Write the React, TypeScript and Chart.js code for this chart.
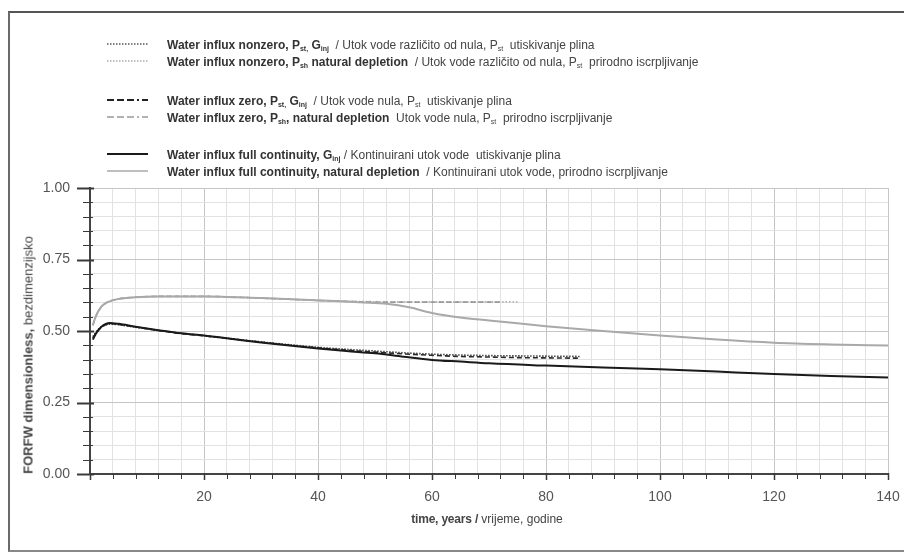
import React, { useEffect, useRef } from "react";
import { Chart, registerables } from "chart.js";

Chart.register(...registerables);

// ---- data (years, FORFW dimensionless) ----
const tFullGinj = [0.5, 1, 2, 3.5, 5, 8, 12, 16, 20, 25, 30, 35, 40, 45, 50, 55, 60, 65, 70, 80, 90, 100, 110, 120, 130, 140];
const fullGinj = [0.47, 0.49, 0.515, 0.528, 0.525, 0.515, 0.503, 0.492, 0.484, 0.472, 0.46, 0.449, 0.439, 0.43, 0.422, 0.41, 0.399, 0.393, 0.387, 0.379, 0.372, 0.366, 0.358, 0.35, 0.343, 0.337];

const tFullDep = [0.5, 1, 2, 3, 5, 8, 12, 20, 30, 40, 48, 52, 56, 60, 65, 70, 75, 80, 90, 100, 110, 120, 130, 140];
const fullDep = [0.52, 0.55, 0.585, 0.6, 0.612, 0.618, 0.621, 0.621, 0.615, 0.607, 0.6, 0.595, 0.583, 0.563, 0.547, 0.537, 0.527, 0.517, 0.5, 0.484, 0.47, 0.459, 0.453, 0.449];

const tGinj = [0.5, 1, 2, 3.5, 5, 8, 12, 16, 20, 25, 30, 35, 40, 45, 50, 55, 60, 65, 70, 75, 80, 86];
const zeroGinj = [0.475, 0.49, 0.513, 0.526, 0.523, 0.514, 0.502, 0.491, 0.483, 0.472, 0.461, 0.45, 0.441, 0.433, 0.426, 0.42, 0.415, 0.411, 0.409, 0.407, 0.406, 0.405];
const nonzeroGinj = [0.48, 0.495, 0.515, 0.524, 0.522, 0.513, 0.502, 0.492, 0.484, 0.473, 0.462, 0.452, 0.443, 0.436, 0.43, 0.424, 0.419, 0.416, 0.414, 0.413, 0.412, 0.411];

const tZeroDep = [0.5, 1, 2, 3, 5, 8, 12, 20, 30, 40, 48, 52, 56, 60, 66, 72];
const zeroDep = [0.52, 0.55, 0.585, 0.6, 0.612, 0.618, 0.621, 0.621, 0.615, 0.607, 0.602, 0.601, 0.601, 0.601, 0.601, 0.601];

const tNonzeroDep = [0.5, 1, 2, 3, 5, 8, 12, 20, 30, 40, 48, 52, 56, 60, 66, 75];
const nonzeroDep = [0.52, 0.55, 0.585, 0.6, 0.612, 0.618, 0.621, 0.621, 0.615, 0.607, 0.603, 0.602, 0.602, 0.602, 0.602, 0.602];

const xMajorTicks = [20, 40, 60, 80, 100, 120, 140];
const yMajorTicks = [0, 0.25, 0.5, 0.75, 1];

const pts = (xs: number[], ys: number[]) => xs.map((x, i) => ({ x, y: ys[i] }));

const isMajorY = (v: number) => Math.abs(v * 4 - Math.round(v * 4)) < 1e-6;
const isMajorX = (v: number) => Math.abs(v % 20) < 1e-6;

const tickMarks = {
  id: "tickMarks",
  afterDraw(chart: any) {
    const { ctx, chartArea } = chart;
    const xs = chart.scales.x;
    const ys = chart.scales.y;
    ctx.save();
    ctx.strokeStyle = "#3a3a3a";
    for (let i = 0; i <= 20; i++) {
      const v = i * 0.05;
      const y = Math.round(ys.getPixelForValue(v)) + 0.5;
      const major = isMajorY(v);
      ctx.lineWidth = major ? 2 : 1;
      ctx.beginPath();
      ctx.moveTo(chartArea.left - (major ? 13 : 7), y);
      ctx.lineTo(chartArea.left + (major ? 4 : 3), y);
      ctx.stroke();
    }
    for (let i = 0; i <= 35; i++) {
      const v = i * 4;
      const x = Math.round(xs.getPixelForValue(v)) + 0.5;
      const major = isMajorX(v);
      ctx.lineWidth = major ? 1.5 : 1;
      ctx.beginPath();
      ctx.moveTo(x, chartArea.bottom - 1);
      ctx.lineTo(x, chartArea.bottom + (major ? 6 : 5));
      ctx.stroke();
    }
    ctx.restore();
  },
};

const Sub = ({ children }: { children: any }) => (
  <sub style={{ fontSize: 7, verticalAlign: "-2px" }}>{children}</sub>
);

const legendRows = [
  {
    y: 44,
    dash: "1.5,1.5",
    color: "#555",
    width: 1.6,
    bold: (
      <>
        Water influx nonzero, P<Sub>st,</Sub> G<Sub>inj</Sub>
      </>
    ),
    reg: (
      <>
        {"  / Utok vode različito od nula, P"}
        <Sub>st</Sub>
        {"  utiskivanje plina"}
      </>
    ),
  },
  {
    y: 61,
    dash: "1.5,1.5",
    color: "#aaa",
    width: 1.6,
    bold: (
      <>
        Water influx nonzero, P<Sub>sh</Sub> natural depletion
      </>
    ),
    reg: (
      <>
        {"  / Utok vode različito od nula, P"}
        <Sub>st</Sub>
        {"  prirodno iscrpljivanje"}
      </>
    ),
  },
  {
    y: 100,
    dash: "7,3,7,3,7,3,2,3",
    color: "#222",
    width: 2,
    bold: (
      <>
        Water influx zero, P<Sub>st,</Sub> G<Sub>inj</Sub>
      </>
    ),
    reg: (
      <>
        {"  / Utok vode nula, P"}
        <Sub>st</Sub>
        {"  utiskivanje plina"}
      </>
    ),
  },
  {
    y: 117,
    dash: "7,3,7,3,7,3,2,3",
    color: "#999",
    width: 1.6,
    bold: (
      <>
        Water influx zero, P<Sub>sh</Sub>, natural depletion
      </>
    ),
    reg: (
      <>
        {"  Utok vode nula, P"}
        <Sub>st</Sub>
        {"  prirodno iscrpljivanje"}
      </>
    ),
  },
  {
    y: 154,
    dash: "",
    color: "#1a1a1a",
    width: 2,
    bold: (
      <>
        Water influx full continuity, G<Sub>inj</Sub>
      </>
    ),
    reg: <>{" / Kontinuirani utok vode  utiskivanje plina"}</>,
  },
  {
    y: 171,
    dash: "",
    color: "#a8a8a8",
    width: 1.6,
    bold: <>Water influx full continuity, natural depletion</>,
    reg: <>{"  / Kontinuirani utok vode, prirodno iscrpljivanje"}</>,
  },
];

export default function App() {
  const canvasRef = useRef<HTMLCanvasElement | null>(null);

  useEffect(() => {
    if (!canvasRef.current) return;
    const chart = new Chart(canvasRef.current, {
      type: "line",
      data: {
        datasets: [
          {
            label: "Water influx full continuity, natural depletion",
            data: pts(tFullDep, fullDep),
            borderColor: "#a9a9a9",
            borderWidth: 2,
          },
          {
            label: "Water influx zero, Psh, natural depletion",
            data: pts(tZeroDep, zeroDep),
            borderColor: "#9a9a9a",
            borderWidth: 1.6,
            borderDash: [5, 3],
          },
          {
            label: "Water influx nonzero, Psh natural depletion",
            data: pts(tNonzeroDep, nonzeroDep),
            borderColor: "#b0b0b0",
            borderWidth: 1.6,
            borderDash: [1.5, 2],
          },
          {
            label: "Water influx full continuity, Ginj",
            data: pts(tFullGinj, fullGinj),
            borderColor: "#1a1a1a",
            borderWidth: 2,
          },
          {
            label: "Water influx zero, Pst, Ginj",
            data: pts(tGinj, zeroGinj),
            borderColor: "#2a2a2a",
            borderWidth: 1.6,
            borderDash: [5, 3],
          },
          {
            label: "Water influx nonzero, Pst, Ginj",
            data: pts(tGinj, nonzeroGinj),
            borderColor: "#444",
            borderWidth: 1.6,
            borderDash: [1.5, 1.5],
          },
        ],
      },
      options: {
        animation: false,
        responsive: false,
        maintainAspectRatio: false,
        events: [],
        elements: {
          point: { radius: 0 },
          line: { cubicInterpolationMode: "monotone", fill: false },
        },
        layout: { padding: { top: 188, right: 16, left: 0, bottom: 0 } },
        plugins: { legend: { display: false }, tooltip: { enabled: false } },
        scales: {
          x: {
            type: "linear",
            min: 0,
            max: 140,
            afterFit: (s: any) => {
              s.height = 78;
              s.paddingRight = 0;
              s.paddingLeft = 0;
            },
            afterBuildTicks: (s: any) => {
              const t = [];
              for (let i = 0; i <= 35; i++) t.push({ value: i * 4 });
              s.ticks = t;
            },
            ticks: {
              autoSkip: false,
              maxRotation: 0,
              padding: 15,
              color: "#555",
              font: { family: "'Liberation Sans', Arial, sans-serif", size: 14 },
              callback: (v: any) => (xMajorTicks.includes(Number(v)) ? String(v) : ""),
            },
            grid: {
              drawTicks: false,
              color: (c: any) => (c.tick && isMajorX(c.tick.value) ? "#c6c6c6" : "#e2e2e2"),
              lineWidth: 1,
            },
            border: { display: true, color: "#444", width: 2 },
          },
          y: {
            type: "linear",
            min: 0,
            max: 1,
            afterFit: (s: any) => {
              s.width = 90;
              s.paddingTop = 0;
              s.paddingBottom = 0;
            },
            afterBuildTicks: (s: any) => {
              const t = [];
              for (let i = 0; i <= 20; i++) t.push({ value: i * 0.05 });
              s.ticks = t;
            },
            ticks: {
              autoSkip: false,
              padding: 20,
              color: "#555",
              font: { family: "'Liberation Sans', Arial, sans-serif", size: 14 },
              callback: (v: any) => {
                const n = Number(v);
                return yMajorTicks.some((m) => Math.abs(m - n) < 1e-6) ? n.toFixed(2) : "";
              },
            },
            grid: {
              drawTicks: false,
              color: (c: any) => (c.tick && isMajorY(c.tick.value) ? "#c6c6c6" : "#e2e2e2"),
              lineWidth: 1,
            },
            border: { display: true, color: "#444", width: 2 },
          },
        },
      },
      plugins: [tickMarks],
    } as any);
    return () => chart.destroy();
  }, []);

  const font = "'Liberation Sans', Arial, sans-serif";

  return (
    <div
      style={{
        position: "fixed",
        left: 0,
        top: 0,
        width: 904,
        height: 552,
        background: "#fff",
        overflow: "hidden",
        fontFamily: font,
      }}
    >
      <div
        style={{
          position: "absolute",
          left: 8,
          top: 11,
          width: 910,
          height: 541,
          borderLeft: "2px solid #6a6a6a",
          borderTop: "2px solid #555",
          borderBottom: "2px solid #888",
          boxSizing: "border-box",
        }}
      />
      <canvas ref={canvasRef} width={904} height={552} style={{ position: "absolute", left: 0, top: 0 }} />
      {legendRows.map((r, i) => (
        <React.Fragment key={i}>
          <svg style={{ position: "absolute", left: 106, top: r.y - 3 }} width={44} height={6}>
            <line
              x1={1}
              y1={3}
              x2={42}
              y2={3}
              stroke={r.color}
              strokeWidth={r.width}
              strokeDasharray={r.dash || undefined}
            />
          </svg>
          <div
            style={{
              position: "absolute",
              left: 167,
              top: r.y - 8,
              height: 16,
              lineHeight: "16px",
              whiteSpace: "pre",
              fontFamily: font,
            }}
          >
            <span style={{ fontWeight: "bold", color: "#333", fontSize: 12 }}>{r.bold}</span>
            <span style={{ color: "#444", fontSize: 12 }}>{r.reg}</span>
          </div>
        </React.Fragment>
      ))}
      <div
        style={{
          position: "absolute",
          left: 28,
          top: 355,
          transform: "translate(-50%, -50%) rotate(-90deg)",
          whiteSpace: "pre",
          fontSize: 13,
          color: "#444",
        }}
      >
        <span style={{ fontWeight: "bold" }}>FORFW dimensionless,</span>
        <span> bezdimenzijsko</span>
      </div>
      <div
        style={{
          position: "absolute",
          left: 487,
          top: 519,
          transform: "translate(-50%, -50%)",
          whiteSpace: "pre",
          fontSize: 12,
          color: "#444",
        }}
      >
        <span style={{ fontWeight: "bold", letterSpacing: -0.2 }}>time, years /</span>
        <span> vrijeme, godine</span>
      </div>
    </div>
  );
}
